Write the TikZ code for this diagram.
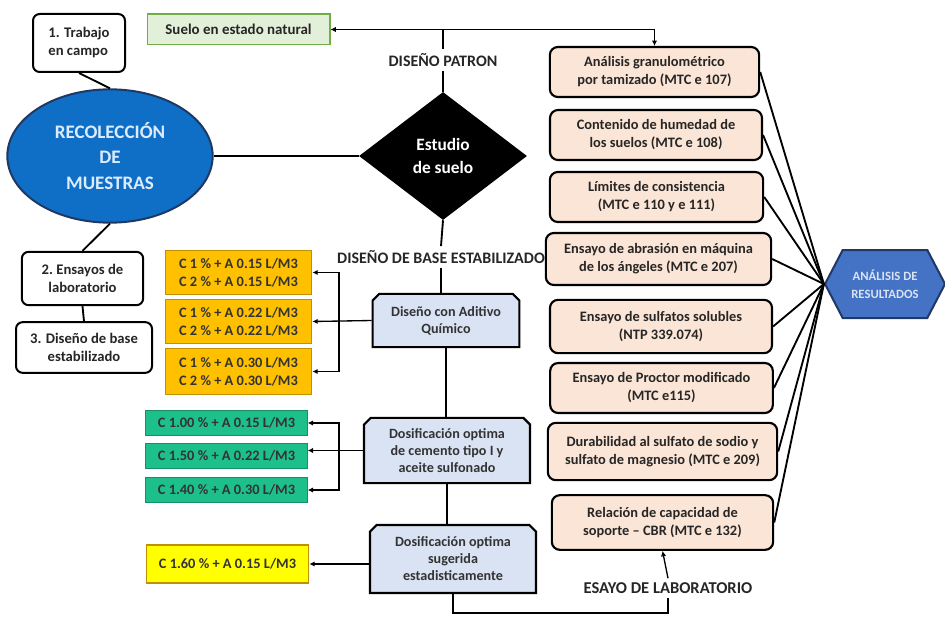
\documentclass[tikz,border=0pt]{standalone}
\usepackage{fontspec}
\setmainfont{Carlito}
\usetikzlibrary{shapes.geometric,shapes.misc,shapes.symbols,arrows.meta}

\definecolor{verdeclaro}{HTML}{E2F0D9}
\definecolor{verdeborde}{HTML}{70AD47}
\definecolor{azulelipse}{HTML}{0F6FC6}
\definecolor{azulborde}{HTML}{1F3864}
\definecolor{naranja}{HTML}{FFC000}
\definecolor{naranjaborde}{HTML}{C09000}
\definecolor{turquesa}{HTML}{1DBF8A}
\definecolor{turquesaborde}{HTML}{168F68}
\definecolor{amarillo}{HTML}{FFFF00}
\definecolor{amarilloborde}{HTML}{BF9000}
\definecolor{celeste}{HTML}{DAE3F3}
\definecolor{rosado}{HTML}{FBE5D6}
\definecolor{azulhex}{HTML}{4472C4}

\tikzset{
  paso/.style={draw, line width=1.5pt, rounded corners=5pt, fill=white, align=center,
    text=black!85, font=\bfseries\fontsize{11}{13.5}\selectfont, inner sep=2pt},
  ensayo/.style={draw, line width=1.6pt, rounded corners=6pt, fill=rosado, align=center,
    text=black!85, font=\bfseries\fontsize{10.8}{13.5}\selectfont, inner sep=1pt},
  dosis/.style={draw, line width=1.6pt, chamfered rectangle,
    chamfered rectangle corners={north west,north east}, chamfered rectangle xsep=2.5pt,
    chamfered rectangle ysep=2.5pt, fill=celeste, align=center, text=black!80,
    font=\bfseries\fontsize{10.6}{12.75}\selectfont, inner sep=1pt},
  mezcla/.style={line width=0.8pt, align=center, text=black!80,
    font=\bfseries\fontsize{10.8}{13.5}\selectfont, inner sep=1pt},
  titulo/.style={font=\bfseries\fontsize{12}{14}\selectfont, text=black!85, inner sep=3pt},
  linea/.style={line width=1.4pt},
  flecha/.style={line width=1pt, -{Latex[length=4pt,width=4pt]}},
}

\begin{document}
\begin{tikzpicture}[x=0.75pt,y=-0.75pt]
\useasboundingbox (0,0) rectangle (945,617);

% columna izquierda
\node[paso, align=left, minimum width=69pt, minimum height=43.5pt] (campo) at (79,43) {1. Trabajo\\en campo};
\node[draw=verdeborde, fill=verdeclaro, line width=1pt, minimum width=137pt, minimum height=23pt,
  font=\bfseries\fontsize{11.2}{13}\selectfont, text=black!85] (natural) at (238.5,29.5) {Suelo en estado natural};
\node[ellipse, draw=azulborde, line width=1.5pt, fill=azulelipse, minimum width=154pt, minimum height=100pt,
  inner sep=0pt, align=center, text={rgb,255:red,220;green,236;blue,255},
  font=\bfseries\fontsize{14.3}{19}\selectfont] (recoleccion) at (110,156) {RECOLECCIÓN\\DE\\MUESTRAS};
\node[paso, minimum width=91pt, minimum height=40pt] (lab) at (82.5,278.5) {2.\ Ensayos de\\laboratorio};
\node[paso, minimum width=102pt, minimum height=38pt] (base) at (84,347.5) {3. Diseño de base\\estabilizado};

% eje central
\node[titulo] (patron) at (443,60) {DISEÑO PATRON};
\node[diamond, fill=black, text=white, minimum width=126pt, minimum height=96pt, inner sep=0pt,
  align=center, font=\bfseries\fontsize{13}{17}\selectfont] (estudio) at (443,156) {Estudio\\de suelo};
\node[titulo] (estabilizado) at (441,257) {DISEÑO DE BASE ESTABILIZADO};
\node[dosis, minimum width=110pt, minimum height=40pt] (aditivo) at (446,320.5) {Diseño con Aditivo\\Químico};
\node[dosis, minimum width=124.5pt, minimum height=49pt] (cemento) at (447,450.5) {Dosificación optima\\de cemento tipo I y\\aceite sulfonado};
\node[dosis, minimum width=124.5pt, minimum height=51pt] (sugerida) at (453,559) {Dosificación optima\\sugerida\\estadisticamente};

% dosificaciones
\node[mezcla, draw=naranjaborde, fill=naranja, minimum width=110pt, minimum height=33pt] (o1) at (238.5,272.5) {C 1 \% + A 0.15 L/M3\\C 2 \% + A 0.15 L/M3};
\node[mezcla, draw=naranjaborde, fill=naranja, minimum width=110pt, minimum height=33pt] (o2) at (238.5,321.5) {C 1 \% + A 0.22 L/M3\\C 2 \% + A 0.22 L/M3};
\node[mezcla, draw=naranjaborde, fill=naranja, minimum width=110pt, minimum height=35pt] (o3) at (238.5,371.5) {C 1 \% + A 0.30 L/M3\\C 2 \% + A 0.30 L/M3};
\node[mezcla, draw=turquesaborde, fill=turquesa, minimum width=121pt, minimum height=19pt] (t1) at (226.5,423) {C 1.00 \% + A 0.15 L/M3};
\node[mezcla, draw=turquesaborde, fill=turquesa, minimum width=121pt, minimum height=19pt] (t2) at (226.5,456) {C 1.50 \% + A 0.22 L/M3};
\node[mezcla, draw=turquesaborde, fill=turquesa, minimum width=121pt, minimum height=19pt] (t3) at (226.5,490) {C 1.40 \% + A 0.30 L/M3};
\node[mezcla, draw=amarilloborde, fill=amarillo, minimum width=122pt, minimum height=28.5pt] (am) at (227.5,564) {C 1.60 \% + A 0.15 L/M3};

% ensayos de laboratorio
\node[ensayo, minimum width=157pt, minimum height=37.5pt] (p1) at (654.5,72) {Análisis granulométrico\\por tamizado (MTC e 107)};
\node[ensayo, minimum width=159pt, minimum height=37.5pt] (p2) at (656,135) {Contenido de humedad de\\los suelos (MTC e 108)};
\node[ensayo, minimum width=160pt, minimum height=37.5pt] (p3) at (656.5,197) {Límites de consistencia\\(MTC e 110 y e 111)};
\node[ensayo, minimum width=169pt, minimum height=39pt] (p4) at (658.5,259) {Ensayo de abrasión en máquina\\de los ángeles (MTC e 207)};
\node[ensayo, minimum width=166.5pt, minimum height=40pt] (p5) at (661,326.5) {Ensayo de sulfatos solubles\\(NTP 339.074)};
\node[ensayo, minimum width=167pt, minimum height=37.5pt] (p6) at (661.5,388) {Ensayo de Proctor modificado\\(MTC e115)};
\node[ensayo, minimum width=172pt, minimum height=43pt] (p7) at (662.5,451.5) {Durabilidad al sulfato de sodio y\\sulfato de magnesio (MTC e 209)};
\node[ensayo, minimum width=166pt, minimum height=41pt] (p8) at (662.5,522.5) {Relación de capacidad de\\soporte -- CBR (MTC e 132)};
\node[titulo, font=\bfseries\fontsize{12.4}{14}\selectfont] (esayo) at (668,588) {ESAYO DE LABORATORIO};

\node[signal, signal to=west and east, signal pointer angle=125, draw=azulborde, line width=1.5pt,
  fill=azulhex, minimum width=90pt, minimum height=51pt, inner sep=0pt, align=center,
  text=celeste, font=\bfseries\fontsize{9.5}{13.5}\selectfont] (hex) at (885,284) {ANÁLISIS DE\\RESULTADOS};

\coordinate (barra) at (339,0);
\coordinate (piso) at (0,613);

% conexiones
\draw[linea] (campo.south) -- (recoleccion.north);
\draw[linea] (recoleccion.south) -- (lab.north);
\draw[linea] (lab.south) -- (base.north);
\draw[linea] (recoleccion.east) -- (estudio.west);
\draw[linea] (patron.north) -- (natural.east -| patron.north);
\draw[flecha] (natural.east -| patron.north) -- (natural.east);
\draw[flecha] (natural.east -| patron.north) -| (p1.north);
\draw[linea] (patron.south) -- (estudio.north);
\draw[linea] (estudio.south) -- (estabilizado.north);
\draw[linea] (estabilizado.south) -- (estabilizado.south |- aditivo.north);
\draw[linea] (aditivo.south) -- (aditivo.south |- cemento.north);
\draw[linea] (cemento.south) -- (cemento.south |- sugerida.north);

\draw[flecha] (aditivo.west) -- (o2.east);
\draw[line width=1pt, {Latex[length=4pt,width=4pt]}-{Latex[length=4pt,width=4pt]}]
  (o1.east) -- (o1.east -| barra) -- (o3.east -| barra) -- (o3.east);
\draw[flecha] (cemento.west) -- (cemento.west -| t2.east);
\draw[line width=1pt, {Latex[length=4pt,width=4pt]}-{Latex[length=4pt,width=4pt]}]
  (t1.east) -- (t1.east -| barra) -- (t3.east -| barra) -- (t3.east);
\draw[flecha] (am.east -| sugerida.west) -- (am.east);

\foreach \i in {1,...,8}
  \draw[linea] (p\i.east) -- (hex.west);

\draw[linea] (sugerida.south) -- (sugerida.south |- piso) -| (esayo.south);
\draw[flecha] (esayo.north) -- (p8.south);
\end{tikzpicture}
\end{document}
